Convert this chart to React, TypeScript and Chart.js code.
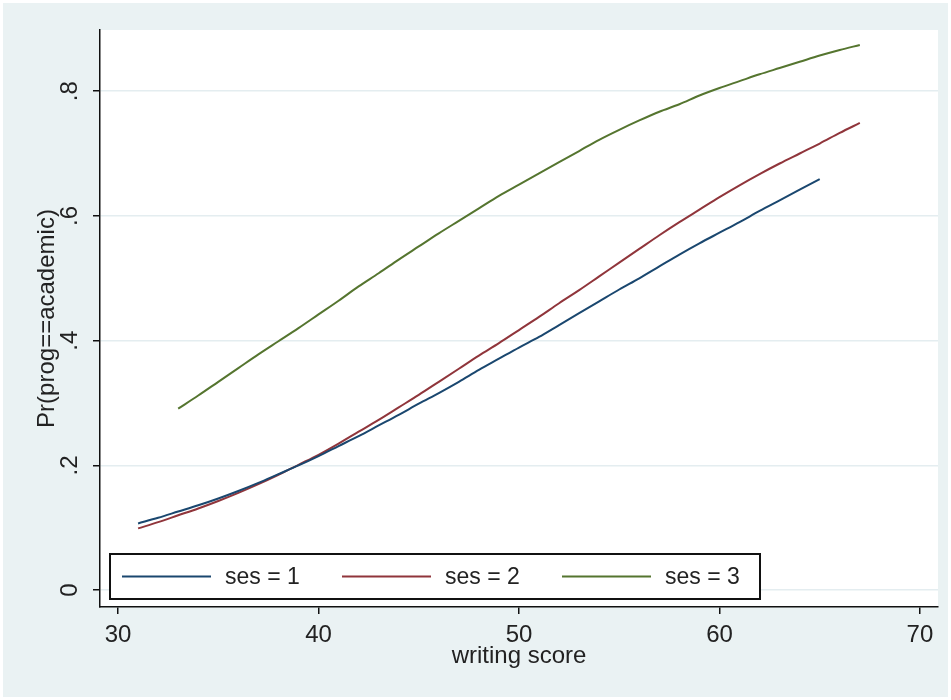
import React, { useEffect, useRef } from "react";
import { Chart, registerables } from "chart.js";

Chart.register(...registerables);

// ---- data ----
const writeScoresSes1 = [31, 32, 33, 34, 35, 36, 37, 38, 39, 40, 41, 42, 43, 44, 45, 46, 47, 48, 49, 50, 51, 52, 53, 54, 55, 56, 57, 58, 59, 60, 61, 62, 63, 64, 65];
const probSes1 = [0.107, 0.116, 0.126, 0.136, 0.147, 0.159, 0.172, 0.186, 0.2, 0.215, 0.231, 0.247, 0.264, 0.281, 0.299, 0.316, 0.334, 0.353, 0.371, 0.389, 0.406, 0.425, 0.444, 0.463, 0.482, 0.5, 0.519, 0.538, 0.556, 0.573, 0.59, 0.608, 0.625, 0.642, 0.659];

const writeScoresSes2 = [31, 32, 33, 34, 35, 36, 37, 38, 39, 40, 41, 42, 43, 44, 45, 46, 47, 48, 49, 50, 51, 52, 53, 54, 55, 56, 57, 58, 59, 60, 61, 62, 63, 64, 65, 66, 67];
const probSes2 = [0.099, 0.109, 0.12, 0.131, 0.143, 0.156, 0.17, 0.185, 0.201, 0.217, 0.235, 0.254, 0.273, 0.293, 0.313, 0.334, 0.355, 0.376, 0.396, 0.417, 0.438, 0.46, 0.481, 0.503, 0.525, 0.547, 0.569, 0.59, 0.61, 0.63, 0.649, 0.667, 0.684, 0.7, 0.716, 0.733, 0.749];

const writeScoresSes3 = [33, 34, 35, 36, 37, 38, 39, 40, 41, 42, 43, 44, 45, 46, 47, 48, 49, 50, 51, 52, 53, 54, 55, 56, 57, 58, 59, 60, 61, 62, 63, 64, 65, 66, 67];
const probSes3 = [0.291, 0.312, 0.334, 0.356, 0.378, 0.399, 0.42, 0.442, 0.464, 0.487, 0.508, 0.53, 0.551, 0.572, 0.592, 0.612, 0.632, 0.65, 0.668, 0.686, 0.704, 0.722, 0.738, 0.753, 0.767, 0.779, 0.793, 0.805, 0.816, 0.827, 0.837, 0.847, 0.857, 0.866, 0.874];

const seriesLabels = ["ses = 1", "ses = 2", "ses = 3"];
const xTicks = [30, 40, 50, 60, 70];
const yTicks = [0, 0.2, 0.4, 0.6, 0.8];
const yTickLabels = ["0", ".2", ".4", ".6", ".8"];
const xTitle = "writing score";
const yTitle = "Pr(prog==academic)";

const COLORS = ["#1A476F", "#90353B", "#55752F"];
const FONT_FAMILY = '"Liberation Sans", Arial, Helvetica, sans-serif';
const BG = "#EAF2F3";

const toPoints = (xs: number[], ys: number[]) => xs.map((x, i) => ({ x, y: ys[i] }));

const backgroundPlugin = {
  id: "stataBackground",
  beforeDraw(chart: any) {
    const { ctx, width, height, chartArea } = chart;
    ctx.save();
    ctx.fillStyle = "#FFFFFF";
    ctx.fillRect(0, 0, width, height);
    ctx.fillStyle = BG;
    ctx.fillRect(3, 3, width - 6, height - 6);
    ctx.fillStyle = "#FFFFFF";
    ctx.fillRect(chartArea.left, chartArea.top, chartArea.right - chartArea.left, chartArea.bottom - chartArea.top);
    ctx.restore();
  },
};

const legendPlugin = {
  id: "stataLegend",
  afterDatasetsDraw(chart: any) {
    const { ctx, chartArea } = chart;
    const boxLeft = chartArea.left + 10;
    const boxRight = chartArea.left + 660;
    const boxBottom = chartArea.bottom - 8;
    const boxTop = boxBottom - 45;
    const midY = (boxTop + boxBottom) / 2;
    ctx.save();
    ctx.fillStyle = "#FFFFFF";
    ctx.fillRect(boxLeft, boxTop, boxRight - boxLeft, boxBottom - boxTop);
    ctx.strokeStyle = "#111111";
    ctx.lineWidth = 2;
    ctx.strokeRect(boxLeft, boxTop, boxRight - boxLeft, boxBottom - boxTop);
    ctx.font = `23px ${FONT_FAMILY}`;
    ctx.textBaseline = "middle";
    ctx.textAlign = "left";
    chart.data.datasets.forEach((ds: any, i: number) => {
      const x0 = boxLeft + 12 + i * 220;
      ctx.strokeStyle = ds.borderColor;
      ctx.lineWidth = 2;
      ctx.beginPath();
      ctx.moveTo(x0, midY);
      ctx.lineTo(x0 + 89, midY);
      ctx.stroke();
      ctx.fillStyle = "#222222";
      ctx.fillText(ds.label, x0 + 103, midY + 1);
    });
    ctx.restore();
  },
};

export default function App() {
  const canvasRef = useRef<HTMLCanvasElement | null>(null);

  useEffect(() => {
    if (!canvasRef.current) return;
    const chart = new Chart(canvasRef.current, {
      type: "line",
      data: {
        datasets: [
          { label: seriesLabels[0], data: toPoints(writeScoresSes1, probSes1), borderColor: COLORS[0] },
          { label: seriesLabels[1], data: toPoints(writeScoresSes2, probSes2), borderColor: COLORS[1] },
          { label: seriesLabels[2], data: toPoints(writeScoresSes3, probSes3), borderColor: COLORS[2] },
        ].map((d) => ({
          ...d,
          borderWidth: 2,
          pointRadius: 0,
          fill: false,
          cubicInterpolationMode: "monotone" as const,
        })),
      },
      options: {
        animation: false,
        responsive: false,
        devicePixelRatio: 1,
        layout: { padding: { left: 0, top: 30, right: 13, bottom: 0 } },
        plugins: {
          legend: { display: false },
          tooltip: { enabled: false },
        },
        scales: {
          x: {
            type: "linear",
            min: 29.1,
            max: 70.9,
            afterBuildTicks: (scale: any) => {
              scale.ticks = xTicks.map((v) => ({ value: v }));
            },
            afterFit: (scale: any) => {
              scale.height = 93;
            },
            grid: {
              display: true,
              drawOnChartArea: false,
              drawTicks: true,
              tickLength: 7,
              tickColor: "#111111",
              lineWidth: 1.5,
            },
            border: { display: true, color: "#111111", width: 1.5 },
            ticks: {
              autoSkip: false,
              maxRotation: 0,
              minRotation: 0,
              padding: 7,
              color: "#222222",
              font: { family: FONT_FAMILY, size: 24 },
              callback: (v: any) => String(v),
            },
            title: {
              display: true,
              text: xTitle,
              color: "#222222",
              font: { family: FONT_FAMILY, size: 24 },
              padding: { top: 0, bottom: 29 },
            },
          },
          y: {
            type: "linear",
            min: -0.027,
            max: 0.898,
            afterBuildTicks: (scale: any) => {
              scale.ticks = yTicks.map((v) => ({ value: v }));
            },
            afterFit: (scale: any) => {
              scale.width = 100;
            },
            grid: {
              display: true,
              drawOnChartArea: true,
              drawTicks: true,
              tickLength: 7,
              color: "#E4EDF0",
              tickColor: "#111111",
              lineWidth: 1.5,
            },
            border: { display: true, color: "#111111", width: 1.5 },
            ticks: {
              autoSkip: false,
              minRotation: 90,
              maxRotation: 90,
              crossAlign: "center",
              padding: 13,
              color: "#222222",
              font: { family: FONT_FAMILY, size: 24 },
              callback: (v: any) => {
                const idx = yTicks.findIndex((t) => Math.abs(t - Number(v)) < 1e-9);
                return idx >= 0 ? yTickLabels[idx] : "";
              },
            },
            title: {
              display: true,
              text: yTitle,
              color: "#222222",
              font: { family: FONT_FAMILY, size: 24 },
              padding: { top: 33, bottom: 0 },
            },
          },
        },
      },
      plugins: [backgroundPlugin, legendPlugin],
    });
    return () => chart.destroy();
  }, []);

  return (
    <div style={{ position: "absolute", left: 0, top: 0, width: 951, height: 700 }}>
      <canvas ref={canvasRef} width={951} height={700} style={{ width: 951, height: 700, display: "block" }} />
    </div>
  );
}
